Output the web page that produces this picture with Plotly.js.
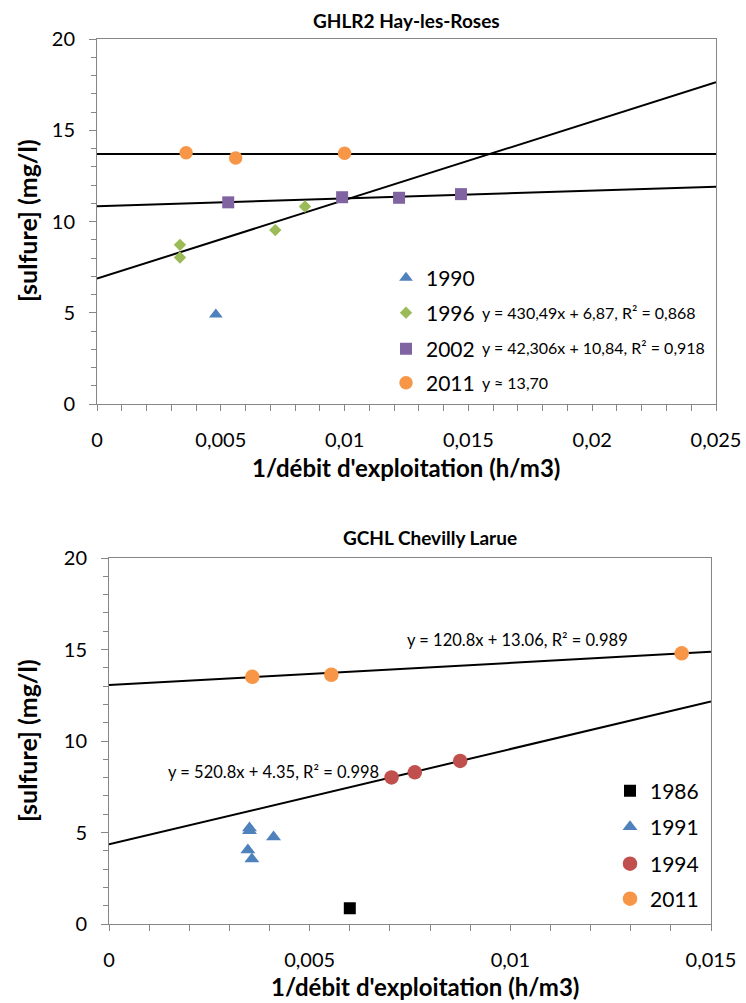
<!DOCTYPE html>
<html>
<head>
<meta charset="utf-8">
<script src="https://cdn.plot.ly/plotly-3.0.1.min.js"></script>
<style>html,body{margin:0;padding:0;background:#fff;}#chart{width:746px;height:1003px;}</style>
</head>
<body>
<div id="chart"></div>
<script>
// ---------- Data: GHLR2 Hay-les-Roses ----------
var topTitle = "GHLR2 Hay-les-Roses";
var x1990 = [0.0048];
var y1990 = [4.9];
var x1996 = [0.00335, 0.00335, 0.0072, 0.0084];
var y1996 = [8.72, 8.03, 9.53, 10.82];
var x2002 = [0.0053, 0.0099, 0.0122, 0.0147];
var y2002 = [11.05, 11.33, 11.3, 11.5];
var x2011a = [0.0036, 0.0056, 0.0100];
var y2011a = [13.77, 13.48, 13.74];
var fitTopNames = ["1996", "2002", "2011"];
var fitTopSlope = [430.49, 42.306, 0];
var fitTopIntercept = [6.87, 10.84, 13.70];
var fitTopLabels = ["y = 430,49x + 6,87, R² = 0,868", "y = 42,306x + 10,84, R² = 0,918", "y ≈ 13,70"];
var topXRange = [0, 0.025];

// ---------- Data: GCHL Chevilly Larue ----------
var botTitle = "GCHL Chevilly Larue";
var x1986 = [0.006];
var y1986 = [0.86];
var x1991 = [0.0035, 0.0035, 0.00346, 0.00356, 0.0041];
var y1991 = [5.25, 5.1, 4.04, 3.55, 4.75];
var x1994 = [0.00704, 0.00762, 0.00875];
var y1994 = [8.01, 8.29, 8.91];
var x2011b = [0.00357, 0.00554, 0.01427];
var y2011b = [13.51, 13.62, 14.79];
var fitBotSlope = [120.8, 520.8];
var fitBotIntercept = [13.06, 4.35];
var fitBotLabels = ["y = 120.8x + 13.06, R² = 0.989", "y = 520.8x + 4.35, R² = 0.998"];
var botXRange = [0, 0.015];

var yTitle = "[sulfure] (mg/l)";
var xTitle = "1/débit d'exploitation (h/m3)";

var FONT = "Lato, 'Open Sans', sans-serif";
var C = {blue:'#4F81BD', green:'#9BBB59', purple:'#8064A2', orange:'#F79646', red:'#C0504D', black:'#000000'};

function fitLine(slope, intercept, xr, xa, ya) {
  return {x: xr, y: [slope*xr[0] + intercept, slope*xr[1] + intercept], mode:'lines',
          line:{color:'#000', width:2}, showlegend:false, hoverinfo:'skip', xaxis:xa, yaxis:ya};
}
function pts(x, y, name, color, symbol, size, xa, ya, leg) {
  return {x:x, y:y, name:name, mode:'markers', type:'scatter',
          marker:{color:color, symbol:symbol, size:size, line:{width:0}},
          xaxis:xa, yaxis:ya, legend:leg, showlegend:true};
}

var traces = [];
for (var i = 0; i < fitTopSlope.length; i++) traces.push(fitLine(fitTopSlope[i], fitTopIntercept[i], topXRange, 'x', 'y'));
for (var j = 0; j < fitBotSlope.length; j++) traces.push(fitLine(fitBotSlope[j], fitBotIntercept[j], botXRange, 'x2', 'y2'));

traces.push(pts(x1990, y1990, '1990', C.blue, 'triangle-up', 12, 'x', 'y', 'legend'));
traces.push(pts(x1996, y1996, '1996', C.green, 'diamond', 9.5, 'x', 'y', 'legend2'));
traces.push(pts(x2002, y2002, '2002', C.purple, 'square', 12, 'x', 'y', 'legend3'));
traces.push(pts(x2011a, y2011a, '2011', C.orange, 'circle', 13.5, 'x', 'y', 'legend4'));

traces.push(pts(x1986, y1986, '1986', C.black, 'square', 12, 'x2', 'y2', 'legend5'));
traces.push(pts(x1991, y1991, '1991', C.blue, 'triangle-up', 13, 'x2', 'y2', 'legend6'));
traces.push(pts(x1994, y1994, '1994', C.red, 'circle', 14.5, 'x2', 'y2', 'legend7'));
traces.push(pts(x2011b, y2011b, '2011', C.orange, 'circle', 14.5, 'x2', 'y2', 'legend8'));

var W = 746, H = 1003;
function px(v) { return v / W; }
function py(v) { return 1 - v / H; }

function xAxis(domain, range, anchor) {
  return {domain: domain, range: range, anchor: anchor, dtick: 0.005, tick0: 0,
    showline:true, linecolor:'#868686', linewidth:1, mirror:true, showgrid:false, zeroline:false,
    ticks:'outside', ticklen:6, tickcolor:'#868686', tickwidth:1, ticklabelstandoff: 12,
    minor:{dtick:0.001, tick0:0, ticks:'outside', ticklen:6, tickcolor:'#868686', tickwidth:1, showgrid:false},
    tickfont:{family:FONT, size:20, color:'#000'}, fixedrange:true};
}
function yAxis(domain, anchor) {
  return {domain: domain, range:[0,20], anchor: anchor, dtick:5, tick0:0,
    showline:true, linecolor:'#868686', linewidth:1, mirror:true, showgrid:false, zeroline:false,
    ticks:'outside', ticklen:7, tickcolor:'#868686', tickwidth:1, ticklabelstandoff: 10,
    minor:{dtick:1, tick0:0, ticks:'outside', ticklen:5, tickcolor:'#868686', tickwidth:1, showgrid:false},
    tickfont:{family:FONT, size:20, color:'#000'}, fixedrange:true};
}

function leg(xpx, ypx) {
  return {x: px(xpx), y: py(ypx), xanchor:'left', yanchor:'middle', bgcolor:'rgba(0,0,0,0)',
          borderwidth:0, font:{family:FONT, size:21, color:'#000'}, itemwidth:30, itemclick:false, itemdoubleclick:false};
}

var anns = [];
function ann(text, xpx, ypx, size, bold, opts) {
  var a = {text: bold ? '<b>' + text + '</b>' : text, x: px(xpx), y: py(ypx), xref:'paper', yref:'paper',
           showarrow:false, xanchor:'center', yanchor:'middle', font:{family:FONT, size:size, color:'#000'}};
  for (var k in (opts||{})) a[k] = opts[k];
  anns.push(a);
}
ann(topTitle, 406, 20, 19, true);
ann(botTitle, 430, 537, 19, true);
ann(yTitle, 27, 221, 25, true, {textangle:-90});
ann(yTitle, 27, 741, 25, true, {textangle:-90});
ann(xTitle, 406, 468, 24, true);
ann(xTitle, 425, 986, 24, true);
ann(fitTopLabels[0], 480, 312, 16, false, {xanchor:'left'});
ann(fitTopLabels[1], 480, 347, 16, false, {xanchor:'left'});
ann(fitTopLabels[2], 480, 382, 16, false, {xanchor:'left'});
ann(fitBotLabels[0], 517, 640, 16.5, false);
ann(fitBotLabels[1], 273, 772, 16.5, false);

var layout = {
  width: W, height: H, margin:{l:0, r:0, t:0, b:0}, paper_bgcolor:'#fff', plot_bgcolor:'#fff',
  separators: ', ', showlegend:true, hovermode:false,
  xaxis: xAxis([px(97), px(716)], topXRange, 'y'),
  yaxis: yAxis([py(404), py(39)], 'x'),
  xaxis2: xAxis([px(109), px(711)], botXRange, 'y2'),
  yaxis2: yAxis([py(924), py(558)], 'x2'),
  legend: leg(386, 278), legend2: leg(386, 313), legend3: leg(386, 349), legend4: leg(386, 383),
  legend5: leg(610, 791), legend6: leg(610, 827), legend7: leg(610, 864), legend8: leg(610, 899),
  annotations: anns
};

Plotly.newPlot('chart', traces, layout, {displayModeBar:false, staticPlot:true});
</script>
</body>
</html>
